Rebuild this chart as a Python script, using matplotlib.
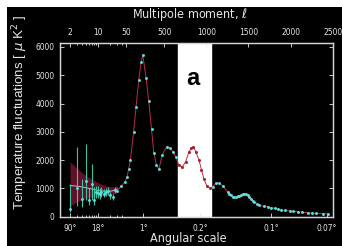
import numpy as np
import matplotlib
matplotlib.use('Agg')
from matplotlib import pyplot as plt
from matplotlib.patches import Rectangle
from matplotlib.ticker import FixedLocator, NullFormatter
from matplotlib import font_manager

# low multipoles (points with big error bars)
ell_low = [2, 3, 4, 5, 6, 7, 8, 9, 10, 11, 12, 14, 16, 18, 20, 23, 26]
dl_low = [270, 1000, 615, 1270, 590, 1150, 600, 880, 850, 800, 880, 820, 860, 900, 760, 700, 950]
lo_low = [150, 380, 330, 590, 400, 600, 420, 660, 650, 620, 700, 680, 720, 760, 640, 600, 840]
hi_low = [1150, 2450, 1350, 2560, 1000, 1850, 1050, 1100, 1080, 1000, 1060, 980, 1000, 1040, 880, 810, 1060]

# theory curve + cosmic variance band at low ell
ell_th = [2, 3, 4, 6, 8, 10, 15, 20, 25, 30]
dl_th = [1100, 1080, 1050, 1000, 960, 930, 900, 900, 930, 980]
band_up = [1950, 1700, 1550, 1380, 1280, 1200, 1100, 1060, 1060, 1090]
band_dn = [380, 520, 600, 680, 700, 720, 740, 770, 820, 870]

# high multipoles
ell_hi = [29, 38, 47, 60, 80, 99, 138, 167, 198, 227, 246, 286, 317, 350, 377, 409, 437,
          477, 528, 568, 604, 636, 675, 716, 755, 795, 823, 847, 875, 914, 943, 974, 1006,
          1045, 1074, 1113, 1153, 1193, 1253, 1273, 1292, 1312, 1332, 1352, 1372, 1392,
          1412, 1432, 1451, 1471, 1491, 1511, 1531, 1551, 1571, 1600, 1630, 1680, 1730,
          1770, 1810, 1850, 1889, 1930, 1989, 2030, 2088, 2140, 2207, 2250, 2306, 2380, 2446]
dl_hi = [920, 1085, 1237, 1413, 1700, 2003, 3004, 3887, 4830, 5477, 5714, 4890, 4088, 3088,
         2262, 1827, 1675, 2180, 2473, 2438, 2297, 2120, 1827, 1767, 1943, 2297, 2417, 2473,
         2297, 2003, 1650, 1321, 1085, 1003, 1050, 1180, 1180, 1100, 880, 820, 767, 707, 690,
         685, 720, 740, 770, 800, 800, 790, 750, 707, 640, 560, 530, 450, 400, 370, 353, 320,
         297, 270, 237, 225, 210, 190, 177, 160, 141, 130, 120, 110, 95]

top_ticks = [2, 10, 50, 500, 1000, 1500, 2000, 2500]
ang_pos = [2, 10, 250, 930, 1770, 2430]
ang_lab = [u'90\u00b0', u'18\u00b0', u'1\u00b0', u'0.2\u00b0', u'0.1\u00b0', u'0.07\u00b0']
box = (660, 1060)

B = np.log10(50.)
K = 477.

def fwd(l):
    l = np.asarray(l, float)
    return np.where(l <= 50, np.log10(np.clip(l, 1e-3, None)), B + (l - 50) / K)

def inv(v):
    v = np.asarray(v, float)
    return np.where(v <= B, 10 ** np.clip(v, -5, B), 50 + (v - B) * K)

# condensed font for the axis texts, if one is there
names = set(f.name for f in font_manager.fontManager.ttflist)
if 'Liberation Sans Narrow' in names:
    cond = dict(family='Liberation Sans Narrow')
else:
    cond = dict(family='DejaVu Sans', fontstretch='condensed')
fg = '#e6e6e6'

fig = plt.figure(figsize=(3.42, 2.46), dpi=100, facecolor='white')
fig.patches.append(Rectangle((7/342., 0), 1, 1 - 7/246., transform=fig.transFigure,
                             facecolor='black', edgecolor='none', zorder=-5))

ax = fig.add_axes([60/342., 1 - 216.7/246, (332.7 - 60)/342., (216.7 - 42.7)/246])
ax.set_facecolor('black')
ax.set_xscale('function', functions=(fwd, inv))
ax.set_xlim(1.125, 2500)
ax.set_ylim(0, 6150)

ax.axvspan(box[0], box[1], color='white', zorder=1)
ax.text(np.sqrt(box[0] * box[1]) + 5, 4900, 'a', fontsize=17, fontweight='bold',
        family=['Liberation Sans', 'DejaVu Sans'], ha='center', va='center', color='black', zorder=6)

ax.fill_between(ell_th, band_dn, band_up, color='#701530', alpha=0.85, lw=0, zorder=2)
ax.plot(ell_th, dl_th, color='#e3b0bf', lw=0.7, zorder=3)
ax.plot(ell_hi, dl_hi, color='#b8304a', lw=0.7, zorder=3)
ax.errorbar(ell_low, dl_low, yerr=[np.array(dl_low) - lo_low, np.array(hi_low) - dl_low],
            fmt='o', ms=2.1, mew=0, color='#5ee0dc', ecolor='#3cc3a4', elinewidth=0.8,
            capsize=0, zorder=4)

ell_hi = np.array(ell_hi)
dl_hi = np.array(dl_hi)
inbox = (ell_hi > box[0]) & (ell_hi < box[1])
ax.plot(ell_hi[~inbox], dl_hi[~inbox], 'o', ms=2.1, mew=0, color='#5ee0dc', zorder=5)
ax.plot(ell_hi[inbox], dl_hi[inbox], 'o', ms=2.2, mew=0, color='#a8202a', zorder=5)

minor = [3, 4, 5, 6, 7, 8, 9, 20, 30, 40]
ax.xaxis.set_major_locator(FixedLocator(ang_pos))
ax.set_xticklabels(ang_lab)
ax.xaxis.set_minor_locator(FixedLocator(minor))
ax.xaxis.set_minor_formatter(NullFormatter())
ax.set_yticks([0, 1000, 2000, 3000, 4000, 5000, 6000])
ax.tick_params(axis='both', which='both', direction='in', colors=fg, labelsize=6,
               right=True, length=3, width=0.6)
ax.tick_params(axis='x', which='minor', length=1.5)
ax.tick_params(axis='x', pad=5)
ax.tick_params(axis='y', pad=4)
for lab in ax.get_xticklabels() + ax.get_yticklabels():
    lab.set(**cond)
    lab.set_color(fg)

ax2 = ax.twiny()
ax2.set_xscale('function', functions=(fwd, inv))
ax2.set_xlim(ax.get_xlim())
ax2.xaxis.set_major_locator(FixedLocator(top_ticks))
ax2.set_xticklabels([str(t) for t in top_ticks])
ax2.xaxis.set_minor_locator(FixedLocator(minor))
ax2.xaxis.set_minor_formatter(NullFormatter())
ax2.tick_params(axis='x', which='both', direction='in', colors=fg, labelsize=6,
                length=3, width=0.6, pad=4)
ax2.tick_params(axis='x', which='minor', length=1.5)
for lab in ax2.get_xticklabels():
    lab.set(**cond)
    lab.set_color(fg)

for a in (ax, ax2):
    for s in a.spines.values():
        s.set_color('#d4d4d4')
        s.set_linewidth(0.9)

fig.text(190/342., 1 - 18/246., r'Multipole moment, $\ell$', color=fg, fontsize=9,
         ha='center', va='baseline', **cond)
fig.text(188/342., 1 - 242/246., 'Angular scale', color=fg, fontsize=9,
         ha='center', va='baseline', **cond)
fig.text(20/342., 1 - 112/246., r'Temperature fluctuations [ $\mu$ K$^2$ ]', color=fg,
         fontsize=9.6, family=['Liberation Sans', 'DejaVu Sans'], rotation=90,
         ha='center', va='center')

fig.savefig('out.png', dpi=100, facecolor=fig.get_facecolor())
